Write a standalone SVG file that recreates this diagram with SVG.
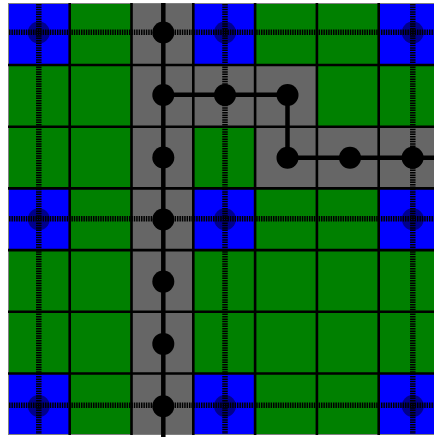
<svg xmlns="http://www.w3.org/2000/svg" width="434" height="437" viewBox="0 0 434 437">
<style>
.b{fill:#0000ff}.g{fill:#008000}.s{fill:#666666}
.grid{stroke:#000;stroke-width:2.6;fill:none}
.dash{stroke:#000;stroke-width:5.5;stroke-dasharray:1.5 0.9;fill:none}
.halo{fill:#000;fill-opacity:0.45}
.edge{stroke:#000;stroke-width:4.5;fill:none}
.node{fill:#000}
</style>
<rect width="434" height="437" fill="#fff"/>
<g id="cells">
<rect class="b" x="8" y="3.3" width="61.7" height="61.7"/>
<rect class="g" x="69.7" y="3.3" width="61.8" height="61.7"/>
<rect class="s" x="131.5" y="3.3" width="61.8" height="61.7"/>
<rect class="b" x="193.3" y="3.3" width="61.8" height="61.7"/>
<rect class="g" x="255.1" y="3.3" width="61.8" height="61.7"/>
<rect class="g" x="316.9" y="3.3" width="61.8" height="61.7"/>
<rect class="b" x="378.7" y="3.3" width="61.8" height="61.7"/>

<rect class="g" x="8" y="65" width="61.7" height="61.7"/>
<rect class="g" x="69.7" y="65" width="61.8" height="61.7"/>
<rect class="s" x="131.5" y="65" width="61.8" height="61.7"/>
<rect class="s" x="193.3" y="65" width="61.8" height="61.7"/>
<rect class="s" x="255.1" y="65" width="61.8" height="61.7"/>
<rect class="g" x="316.9" y="65" width="61.8" height="61.7"/>
<rect class="g" x="378.7" y="65" width="61.8" height="61.7"/>

<rect class="g" x="8" y="126.7" width="61.7" height="61.7"/>
<rect class="g" x="69.7" y="126.7" width="61.8" height="61.7"/>
<rect class="s" x="131.5" y="126.7" width="61.8" height="61.7"/>
<rect class="g" x="193.3" y="126.7" width="61.8" height="61.7"/>
<rect class="s" x="255.1" y="126.7" width="61.8" height="61.7"/>
<rect class="s" x="316.9" y="126.7" width="61.8" height="61.7"/>
<rect class="s" x="378.7" y="126.7" width="61.8" height="61.7"/>

<rect class="b" x="8" y="188.4" width="61.7" height="61.7"/>
<rect class="g" x="69.7" y="188.4" width="61.8" height="61.7"/>
<rect class="s" x="131.5" y="188.4" width="61.8" height="61.7"/>
<rect class="b" x="193.3" y="188.4" width="61.8" height="61.7"/>
<rect class="g" x="255.1" y="188.4" width="61.8" height="61.7"/>
<rect class="g" x="316.9" y="188.4" width="61.8" height="61.7"/>
<rect class="b" x="378.7" y="188.4" width="61.8" height="61.7"/>

<rect class="g" x="8" y="250.1" width="61.7" height="61.7"/>
<rect class="g" x="69.7" y="250.1" width="61.8" height="61.7"/>
<rect class="s" x="131.5" y="250.1" width="61.8" height="61.7"/>
<rect class="g" x="193.3" y="250.1" width="61.8" height="61.7"/>
<rect class="g" x="255.1" y="250.1" width="61.8" height="61.7"/>
<rect class="g" x="316.9" y="250.1" width="61.8" height="61.7"/>
<rect class="g" x="378.7" y="250.1" width="61.8" height="61.7"/>

<rect class="g" x="8" y="311.8" width="61.7" height="61.7"/>
<rect class="g" x="69.7" y="311.8" width="61.8" height="61.7"/>
<rect class="s" x="131.5" y="311.8" width="61.8" height="61.7"/>
<rect class="g" x="193.3" y="311.8" width="61.8" height="61.7"/>
<rect class="g" x="255.1" y="311.8" width="61.8" height="61.7"/>
<rect class="g" x="316.9" y="311.8" width="61.8" height="61.7"/>
<rect class="g" x="378.7" y="311.8" width="61.8" height="61.7"/>

<rect class="b" x="8" y="373.5" width="61.7" height="61.5"/>
<rect class="g" x="69.7" y="373.5" width="61.8" height="61.5"/>
<rect class="s" x="131.5" y="373.5" width="61.8" height="61.5"/>
<rect class="b" x="193.3" y="373.5" width="61.8" height="61.5"/>
<rect class="g" x="255.1" y="373.5" width="61.8" height="61.5"/>
<rect class="g" x="316.9" y="373.5" width="61.8" height="61.5"/>
<rect class="b" x="378.7" y="373.5" width="61.8" height="61.5"/>
</g>
<g id="gridlines">
<rect x="8.5" y="3.5" width="440" height="431" fill="none" stroke="#808080" stroke-width="1"/>
<path class="grid" d="M69.7,3 V435 M131.5,3 V435 M193.3,3 V435 M255.1,3 V435 M316.9,3 V435 M378.7,3 V435 M8,65 H434 M8,126.7 H434 M8,188.4 H434 M8,250.1 H434 M8,311.8 H434 M8,373.5 H434"/>
</g>
<g id="dashed-lines">
<path class="dash" d="M9,32.3 H434 M9,218.8 H434 M9,405.3 H434 M38.8,4 V434 M225,4 V434 M412.8,4 V434"/>
</g>
<g id="halos">
<circle class="halo" cx="38.8" cy="32.5" r="11"/>
<circle class="halo" cx="225" cy="32.5" r="11"/>
<circle class="halo" cx="412.8" cy="32.5" r="11"/>
<circle class="halo" cx="38.8" cy="219.3" r="11"/>
<circle class="halo" cx="225" cy="219.3" r="11"/>
<circle class="halo" cx="412.8" cy="219.3" r="11"/>
<circle class="halo" cx="38.8" cy="406" r="11"/>
<circle class="halo" cx="225" cy="406" r="11"/>
<circle class="halo" cx="412.8" cy="406" r="11"/>
</g>
<g id="connectors">
<path class="edge" d="M163.3,3 V437"/>
<path class="edge" d="M163.3,94.8 H287.5 V157.8 H434"/>
</g>
<g id="n-2-0"><circle class="node" cx="163.3" cy="32.5" r="11"/></g>
<g id="n-2-1"><circle class="node" cx="163.3" cy="95" r="11"/></g>
<g id="n-2-2"><circle class="node" cx="163.3" cy="157.5" r="11"/></g>
<g id="n-2-3"><circle class="node" cx="163.3" cy="219.5" r="11"/></g>
<g id="n-2-4"><circle class="node" cx="163.3" cy="281.6" r="11"/></g>
<g id="n-2-5"><circle class="node" cx="163.3" cy="343.9" r="11"/></g>
<g id="n-2-6"><circle class="node" cx="163.3" cy="406.2" r="11"/></g>
<g id="n-3-1"><circle class="node" cx="225" cy="95" r="11"/></g>
<g id="n-4-1"><circle class="node" cx="287.5" cy="95" r="11"/></g>
<g id="n-4-2"><circle class="node" cx="287.5" cy="157.8" r="11"/></g>
<g id="n-5-2"><circle class="node" cx="350" cy="157.8" r="11"/></g>
<g id="n-6-2"><circle class="node" cx="412.6" cy="157.8" r="11"/></g>
</svg>
